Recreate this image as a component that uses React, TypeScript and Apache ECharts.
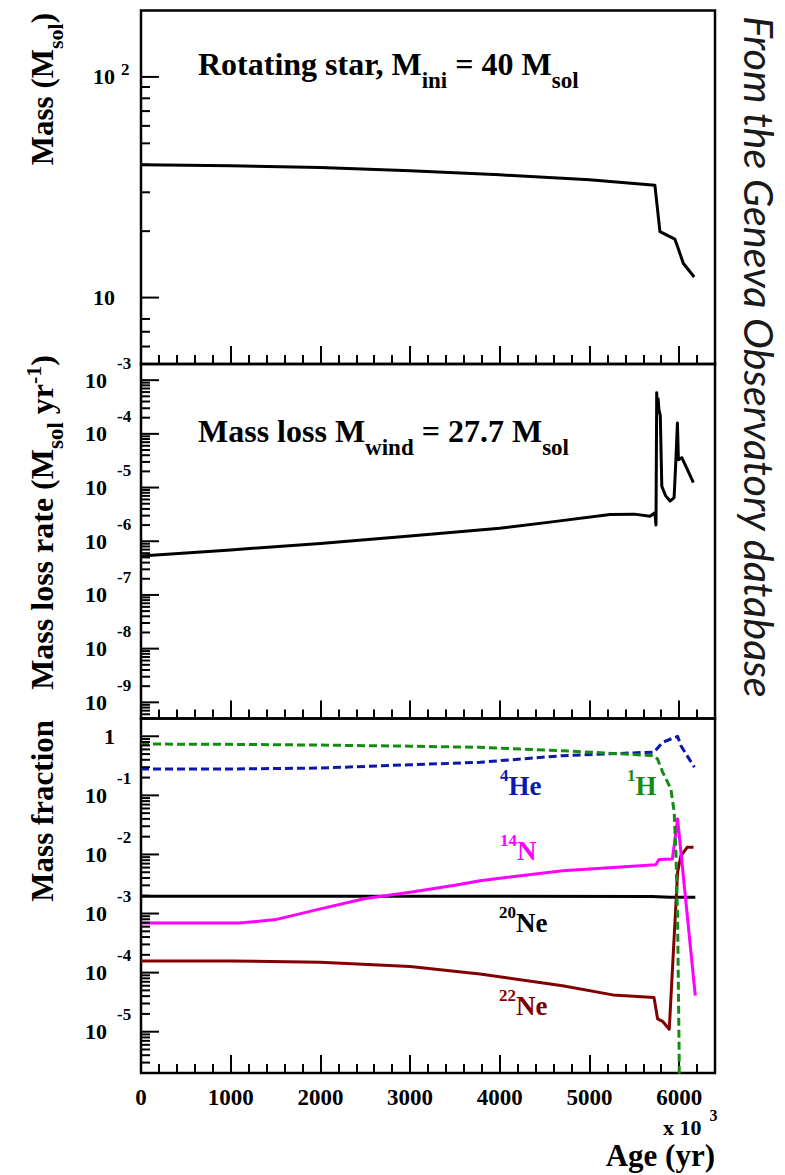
import React, { useEffect, useRef } from 'react';
import * as echarts from 'echarts';

const W = 785;
const H = 1175;

// ---------- x axis (Age, in 10^3 yr) ----------
const AGE_MIN = 0;
const AGE_MAX = 6400;
const ageTickLabels = [0, 1000, 2000, 3000, 4000, 5000, 6000];

// ---------- panel 1 : stellar mass (M_sol) ----------
const massAge = [0, 1000, 2000, 3000, 4000, 5000, 5730, 5786, 5953, 5990, 6046, 6168];
const massValues = [40, 39.6, 38.9, 37.6, 36.0, 34.2, 32.3, 19.9, 18.4, 16.7, 14.3, 12.4];

// ---------- panel 2 : mass loss rate (M_sol / yr) ----------
const rateAge = [0, 1000, 2000, 3000, 4000, 4560, 5230, 5500, 5676, 5730, 5742, 5750, 5758, 5766, 5775, 5790, 5807, 5850, 5899, 5944, 5966, 5981, 5992, 6030, 6090, 6159];
const rateValues = [5.3e-7, 6.9e-7, 9.1e-7, 1.25e-6, 1.75e-6, 2.27e-6, 3.16e-6, 3.2e-6, 2.93e-6, 3.4e-6, 2.0e-6, 5.8e-4, 2.5e-4, 4.5e-4, 2.8e-4, 2.2e-4, 1.06e-5, 7.0e-6, 5.6e-6, 6.5e-6, 3.9e-5, 1.6e-4, 3.3e-5, 3.6e-5, 2.2e-5, 1.23e-5];

// ---------- panel 3 : surface mass fractions ----------
const hAge = [0, 1000, 2000, 3000, 3780, 4700, 5720, 5760, 5815, 5908, 5945, 5965, 5983, 6000, 6010, 6180];
const hValues = [0.74, 0.73, 0.71, 0.68, 0.65, 0.57, 0.47, 0.41, 0.25, 0.128, 0.052, 0.01, 8e-4, 4.6e-6, 1e-9, 1e-9];
const heAge = [0, 1000, 1500, 2000, 3000, 3780, 4700, 5720, 5815, 5983, 6020, 6170];
const heValues = [0.28, 0.28, 0.285, 0.29, 0.33, 0.363, 0.47, 0.54, 0.79, 1.0, 0.69, 0.30];
const n14Age = [0, 1100, 1500, 2000, 2500, 3000, 3500, 3780, 4700, 5740, 5775, 5925, 5983, 6020, 6180];
const n14Values = [6.9e-4, 6.9e-4, 7.9e-4, 1.2e-3, 1.8e-3, 2.3e-3, 3.0e-3, 3.6e-3, 5.3e-3, 6.7e-3, 8.2e-3, 8.4e-3, 0.04, 0.011, 4.1e-5];
const ne20Age = [0, 3000, 5700, 5900, 6180];
const ne20Values = [1.96e-3, 1.96e-3, 1.95e-3, 1.88e-3, 1.88e-3];
const ne22Age = [0, 1000, 2000, 3000, 3780, 4700, 5260, 5720, 5760, 5815, 5890, 5983, 6020, 6090, 6160];
const ne22Values = [1.58e-4, 1.58e-4, 1.5e-4, 1.27e-4, 9.5e-5, 6.0e-5, 4.2e-5, 3.8e-5, 1.65e-5, 1.5e-5, 1.1e-5, 5e-3, 9.5e-3, 1.32e-2, 1.32e-2];

// ---------- y axis ranges and tick labels ----------
const massRange = [5, 200];
const rateRange = [5e-10, 2e-3];
const fracRange = [2e-6, 2];

const massMajorTicks = [
  { v: 100, base: '10', exp: '2' },
  { v: 10, base: '10', exp: '' },
];
const massMinorTicks = [6, 7, 8, 20, 30, 40, 50, 60, 70, 80, 90];

const rateMajorTicks = [
  { v: 1e-3, base: '10', exp: '-3' },
  { v: 1e-4, base: '10', exp: '-4' },
  { v: 1e-5, base: '10', exp: '-5' },
  { v: 1e-6, base: '10', exp: '-6' },
  { v: 1e-7, base: '10', exp: '-7' },
  { v: 1e-8, base: '10', exp: '-8' },
  { v: 1e-9, base: '10', exp: '-9' },
];
const rateMinorDecades = [1e-10, 1e-9, 1e-8, 1e-7, 1e-6, 1e-5, 1e-4, 1e-3];

const fracMajorTicks = [
  { v: 1, base: '1', exp: '' },
  { v: 1e-1, base: '10', exp: '-1' },
  { v: 1e-2, base: '10', exp: '-2' },
  { v: 1e-3, base: '10', exp: '-3' },
  { v: 1e-4, base: '10', exp: '-4' },
  { v: 1e-5, base: '10', exp: '-5' },
];
const fracMinorDecades = [1e-6, 1e-5, 1e-4, 1e-3, 1e-2, 1e-1, 1];
const logMinorMultipliers = [2, 3, 4, 5, 6, 7, 8, 9];

// ---------- styling ----------
const SERIF = '"Liberation Serif", "Times New Roman", serif';
const H_COLOR = '#148c14';
const HE_COLOR = '#0c18a8';
const N_COLOR = '#ff00ff';
const NE20_COLOR = '#000000';
const NE22_COLOR = '#800000';

const GRID_LEFT = 141;
const GRID_WIDTH = 574;
const gridTops = [10.5, 364, 718.5];
const gridHeights = [353.5, 354.5, 354.5];

function fontStr(size: number, italic = false, family = SERIF, weight = 'bold') {
  return `${italic ? 'italic ' : ''}${weight} ${size}px ${family}`;
}

let measureCtx: CanvasRenderingContext2D | null = null;
function measure(text: string, font: string) {
  if (!measureCtx) measureCtx = document.createElement('canvas').getContext('2d');
  measureCtx!.font = font;
  return measureCtx!.measureText(text).width;
}

type Part = { t: string; size: number; dy?: number; color?: string };
type RowOpts = { rotation?: number; anchor?: 'start' | 'end'; family?: string; weight?: string; italic?: boolean; color?: string };

function textRow(parts: Part[], x: number, y: number, opts: RowOpts = {}) {
  const fonts = parts.map((p) => fontStr(p.size, opts.italic, opts.family || SERIF, opts.weight || 'bold'));
  const widths = parts.map((p, i) => measure(p.t, fonts[i]));
  const total = widths.reduce((a, b) => a + b, 0);
  let cx = opts.anchor === 'end' ? -total : 0;
  const children = parts.map((p, i) => {
    const trimmed = p.t.trimStart();
    const lead = p.t.length - trimmed.length;
    const off = lead ? measure(p.t.slice(0, lead), fonts[i]) : 0;
    const el = {
      type: 'text',
      x: cx + off,
      y: (p.dy || 0) - 0.34 * p.size,
      style: {
        text: trimmed.trimEnd(),
        font: fonts[i],
        fill: p.color || opts.color || '#000',
        align: 'left',
        textAlign: 'left',
        verticalAlign: 'middle',
        textVerticalAlign: 'middle',
      },
    };
    cx += widths[i];
    return el;
  });
  return { type: 'group', x, y, rotation: opts.rotation || 0, silent: true, children };
}

type MajorTick = { v: number; base: string; exp: string };
type LabelLayout = { plainRight: number; baseRight: number; expLeft: number; expDy: number };

function minorList(decades: number[], range: number[]) {
  const out: number[] = [];
  decades.forEach((d) => logMinorMultipliers.forEach((m) => {
    const v = d * m;
    if (v >= range[0] * 0.999 && v <= range[1] * 1.001) out.push(v);
  }));
  return out;
}

function yTickSeries(panel: number, majors: MajorTick[], minors: number[], lab: LabelLayout) {
  const data = [
    ...majors.map((m) => [AGE_MIN, m.v, 1]),
    ...minors.map((v) => [AGE_MIN, v, 0]),
  ];
  return {
    type: 'custom',
    xAxisIndex: panel * 2,
    yAxisIndex: panel,
    clip: false,
    silent: true,
    z: 10,
    encode: { x: 0, y: 1 },
    data,
    renderItem: (params: any, api: any) => {
      const major = api.value(2) === 1;
      const p = api.coord([api.value(0), api.value(1)]);
      const len = major ? 18 : 9;
      const children: any[] = [
        { type: 'line', shape: { x1: p[0], y1: p[1], x2: p[0] + len, y2: p[1] }, style: { stroke: '#000', lineWidth: 2 } },
      ];
      if (major) {
        const m = majors[params.dataIndex];
        const right = m.exp ? lab.baseRight : lab.plainRight;
        children.push({
          type: 'text', x: p[0] - right, y: p[1],
          style: { text: m.base, font: fontStr(22), fill: '#000', align: 'right', textAlign: 'right', verticalAlign: 'middle', textVerticalAlign: 'middle' },
        });
        if (m.exp) {
          children.push({
            type: 'text', x: p[0] - lab.expLeft, y: p[1] + lab.expDy,
            style: { text: m.exp, font: fontStr(17), fill: '#000', align: 'left', textAlign: 'left', verticalAlign: 'middle', textVerticalAlign: 'middle' },
          });
        }
      }
      return { type: 'group', children };
    },
  };
}

function xAxesFor(panel: number, showLabels: boolean) {
  const common = {
    type: 'value', gridIndex: panel, min: AGE_MIN, max: AGE_MAX, position: 'bottom',
    axisLine: { show: false }, splitLine: { show: false },
  };
  return [
    {
      ...common,
      interval: 1000,
      axisTick: { show: true, inside: true, length: 18, lineStyle: { color: '#000', width: 2 } },
      axisLabel: {
        show: showLabels, inside: false, margin: 13, color: '#000', fontFamily: SERIF, fontWeight: 'bold', fontSize: 23,
        formatter: (v: number) => (ageTickLabels.includes(v) ? String(v) : ''),
      },
    },
    {
      ...common,
      interval: 200,
      axisTick: { show: true, inside: true, length: 9, lineStyle: { color: '#000', width: 2 } },
      axisLabel: { show: false },
    },
  ];
}

function yAxisFor(panel: number, range: number[]) {
  return {
    type: 'log', logBase: 10, gridIndex: panel, min: range[0], max: range[1],
    axisLine: { show: false }, axisTick: { show: false }, axisLabel: { show: false },
    splitLine: { show: false }, minorTick: { show: false },
  };
}

function curve(panel: number, ages: number[], values: number[], color: string, dashed: boolean, width = 3) {
  return {
    type: 'line',
    xAxisIndex: panel * 2,
    yAxisIndex: panel,
    data: ages.map((a, i) => [a, values[i]]),
    showSymbol: false,
    symbol: 'none',
    clip: true,
    z: 3,
    lineStyle: { color, width, type: dashed ? [8, 4] : 'solid', join: 'round', cap: 'butt' },
  };
}

function buildOption() {
  const topLab: LabelLayout = { plainRight: 26, baseRight: 26, expLeft: 20, expDy: -7 };
  const lowLab: LabelLayout = { plainRight: 26, baseRight: 34, expLeft: 24, expDy: -17 };

  const sideText = 'From the Geneva Observatory database';
  const sideFamily = 'Lato, "Open Sans", sans-serif';
  const sideLen = measure(sideText, fontStr(36, true, sideFamily, 'normal'));
  const sideSize = 36 * 683 / sideLen;

  const graphics: any[] = [
    // y-axis titles (rotated, aligned at the upper end)
    textRow([{ t: 'Mass (M', size: 31 }, { t: 'sol', size: 22, dy: 10 }, { t: ')', size: 31 }], 53, 13, { rotation: Math.PI / 2, anchor: 'end' }),
    textRow([
      { t: 'Mass loss rate (M', size: 32 }, { t: 'sol', size: 23, dy: 10 }, { t: ' yr', size: 32 },
      { t: '-1', size: 22, dy: -12 }, { t: ')', size: 32 },
    ], 53, 355, { rotation: Math.PI / 2, anchor: 'end' }),
    textRow([{ t: 'Mass fraction', size: 31 }], 53, 720, { rotation: Math.PI / 2, anchor: 'end' }),

    // panel annotations
    textRow([{ t: 'Rotating star, M', size: 32 }, { t: 'ini', size: 23, dy: 13 }, { t: ' = 40 M', size: 32 }, { t: 'sol', size: 23, dy: 13 }], 198, 75),
    textRow([{ t: 'Mass loss M', size: 32 }, { t: 'wind', size: 23, dy: 13 }, { t: ' = 27.7 M', size: 32 }, { t: 'sol', size: 23, dy: 13 }], 198, 442),

    // isotope labels
    textRow([{ t: '4', size: 17, dy: -14 }, { t: 'He', size: 27 }], 500, 795, { color: HE_COLOR }),
    textRow([{ t: '1', size: 17, dy: -14 }, { t: 'H', size: 27 }], 627, 795, { color: H_COLOR }),
    textRow([{ t: '14', size: 17, dy: -14 }, { t: 'N', size: 27 }], 500, 860, { color: N_COLOR }),
    textRow([{ t: '20', size: 17, dy: -14 }, { t: 'Ne', size: 27 }], 499, 932, { color: NE20_COLOR }),
    textRow([{ t: '22', size: 17, dy: -14 }, { t: 'Ne', size: 27 }], 499, 1015, { color: NE22_COLOR }),

    // x axis multiplier and title
    textRow([{ t: 'x 10', size: 22 }, { t: '  3', size: 16, dy: -14 }], 663, 1135),
    textRow([{ t: 'Age (yr)', size: 31 }], 715, 1166, { anchor: 'end' }),

    // side credit (reads top to bottom)
    textRow([{ t: sideText, size: sideSize }], 761 - 0.36 * sideSize, 16, {
      rotation: -Math.PI / 2, family: sideFamily, weight: 'normal', italic: true, color: '#1a1a1a',
    }),
  ];

  return {
    animation: false,
    backgroundColor: '#ffffff',
    textStyle: { fontFamily: SERIF },
    grid: gridTops.map((top, i) => ({
      left: GRID_LEFT, top, width: GRID_WIDTH, height: gridHeights[i],
      show: true, borderColor: '#000', borderWidth: 2.5, backgroundColor: 'rgba(0,0,0,0)',
      containLabel: false, outerBoundsMode: 'none',
    })),
    xAxis: [...xAxesFor(0, false), ...xAxesFor(1, false), ...xAxesFor(2, true)],
    yAxis: [yAxisFor(0, massRange), yAxisFor(1, rateRange), yAxisFor(2, fracRange)],
    series: [
      curve(0, massAge, massValues, '#000', false, 3),
      curve(1, rateAge, rateValues, '#000', false, 3),
      curve(2, ne20Age, ne20Values, NE20_COLOR, false, 3),
      curve(2, ne22Age, ne22Values, NE22_COLOR, false, 3),
      curve(2, n14Age, n14Values, N_COLOR, false, 3),
      curve(2, heAge, heValues, HE_COLOR, true, 3),
      curve(2, hAge, hValues, H_COLOR, true, 3),
      yTickSeries(0, massMajorTicks, massMinorTicks, topLab),
      yTickSeries(1, rateMajorTicks, minorList(rateMinorDecades, rateRange), lowLab),
      yTickSeries(2, fracMajorTicks, minorList(fracMinorDecades, fracRange), lowLab),
    ],
    graphic: { elements: graphics },
  };
}

export default function App() {
  const ref = useRef<HTMLDivElement>(null);
  useEffect(() => {
    const chart = echarts.init(ref.current!, undefined, { renderer: 'svg', width: W, height: H });
    chart.setOption(buildOption() as any);
    return () => chart.dispose();
  }, []);
  return (
    <div
      ref={ref}
      style={{ position: 'absolute', left: 0, top: 0, width: W, height: H, background: '#fff' }}
    />
  );
}
